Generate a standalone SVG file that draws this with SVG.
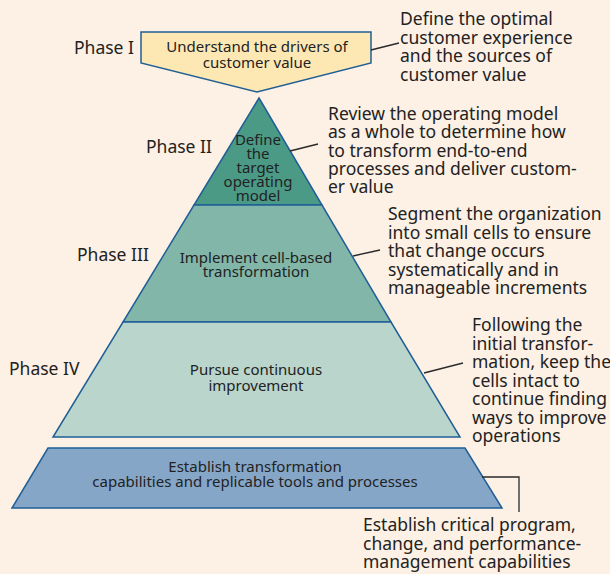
<svg xmlns="http://www.w3.org/2000/svg" width="610" height="574" viewBox="0 0 610 574">
<style>
.shape{stroke:#1f5f96;stroke-width:1.5;stroke-linejoin:miter}
.nt{font-family:"Noto Sans","Open Sans",sans-serif;font-size:15px;fill:#222;text-anchor:middle}
.lt{font-family:"Noto Sans","Open Sans",sans-serif;font-size:17.5px;fill:#222}
.conn{fill:none;stroke:#2a2a2a;stroke-width:1.3}
</style>
<rect x="0" y="0" width="610" height="574" fill="#fdf0e4"/>
<g id="labels">
<text class="lt" x="74" y="54">Phase I</text>
<text class="lt" x="146" y="153">Phase II</text>
<text class="lt" x="77" y="261">Phase III</text>
<text class="lt" x="9" y="375">Phase IV</text>
</g>
<g id="phase1">
<polygon class="shape" fill="#fde8b4" points="141,32 371,32 371,63 257,92 141,63"/>
<text class="nt" x="257" y="52">Understand the drivers of</text>
<text class="nt" x="257" y="68">customer value</text>
</g>
<g id="phase2">
<polygon class="shape" fill="#4b9a86" points="259,98 322,205 194,205"/>
<text class="nt" x="258" y="145">Define</text>
<text class="nt" x="258" y="159">the</text>
<text class="nt" x="258" y="173">target</text>
<text class="nt" x="258" y="187">operating</text>
<text class="nt" x="258" y="201">model</text>
</g>
<g id="phase3">
<polygon class="shape" fill="#81b6a9" points="194,205 322,205 391,322 123,322"/>
<text class="nt" x="256" y="263">Implement cell-based</text>
<text class="nt" x="256" y="277">transformation</text>
</g>
<g id="phase4">
<polygon class="shape" fill="#b9d5cc" points="123,322 391,322 460,437 53,437"/>
<text class="nt" x="256" y="375">Pursue continuous</text>
<text class="nt" x="256" y="391">improvement</text>
</g>
<g id="base">
<polygon class="shape" fill="#86a6c8" points="48,448 465,448 502,508 12,508"/>
<text class="nt" x="255" y="472">Establish transformation</text>
<text class="nt" x="255" y="487">capabilities and replicable tools and processes</text>
</g>
<g id="connectors">
<line class="conn" x1="371" y1="50" x2="399" y2="43"/>
<line class="conn" x1="290" y1="151" x2="318" y2="144"/>
<line class="conn" x1="353" y1="256" x2="380" y2="250"/>
<line class="conn" x1="424" y1="373" x2="463" y2="363"/>
<polyline class="conn" points="482,477 519,477 519,512"/>
</g>
<g id="desc1">
<text class="lt" x="400" y="25">Define the optimal</text>
<text class="lt" x="400" y="43.5">customer experience</text>
<text class="lt" x="400" y="62">and the sources of</text>
<text class="lt" x="400" y="80.5">customer value</text>
</g>
<g id="desc2">
<text class="lt" x="328" y="120">Review the operating model</text>
<text class="lt" x="328" y="138">as a whole to determine how</text>
<text class="lt" x="328" y="156.5">to transform end-to-end</text>
<text class="lt" x="328" y="175">processes and deliver custom-</text>
<text class="lt" x="328" y="193">er value</text>
</g>
<g id="desc3">
<text class="lt" x="388" y="220">Segment the organization</text>
<text class="lt" x="388" y="238.5">into small cells to ensure</text>
<text class="lt" x="388" y="257">that change occurs</text>
<text class="lt" x="388" y="275.5">systematically and in</text>
<text class="lt" x="388" y="294">manageable increments</text>
</g>
<g id="desc4">
<text class="lt" x="472" y="331">Following the</text>
<text class="lt" x="472" y="349.5">initial transfor-</text>
<text class="lt" x="472" y="368">mation, keep the</text>
<text class="lt" x="472" y="386.5">cells intact to</text>
<text class="lt" x="472" y="405">continue finding</text>
<text class="lt" x="472" y="423.5">ways to improve</text>
<text class="lt" x="472" y="442">operations</text>
</g>
<g id="desc5">
<text class="lt" x="363" y="531">Establish critical program,</text>
<text class="lt" x="363" y="549.5">change, and performance-</text>
<text class="lt" x="363" y="568">management capabilities</text>
</g>
</svg>
